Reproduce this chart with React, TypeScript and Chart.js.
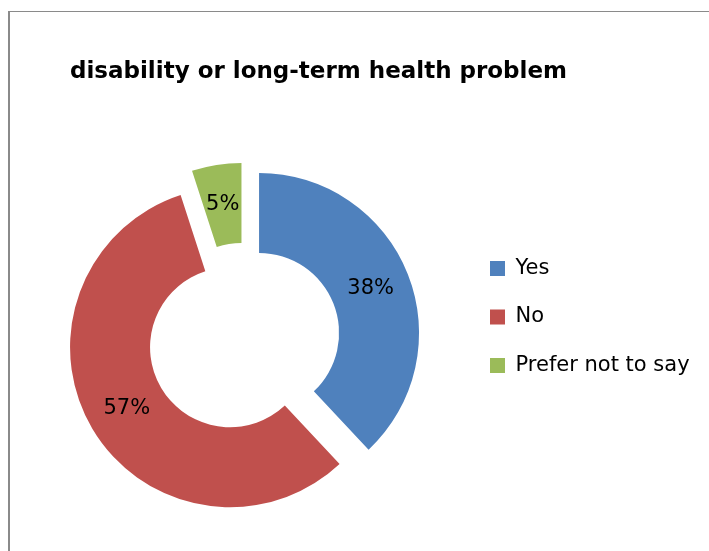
import React, { useEffect, useRef } from 'react';
import { Chart, registerables } from 'chart.js';

Chart.register(...registerables);

const titleText = 'disability or long-term health problem';
const categories = ['Yes', 'No', 'Prefer not to say'];
const values = [38, 57, 5];
const colors = ['#4F81BD', '#C0504D', '#9BBB59'];

const EXPLODE = 16.2;
const FONT = 'DejaVu Sans';

const explodePlugin = {
  id: 'explodeSlices',
  afterDatasetUpdate(chart: any, args: any) {
    for (const arc of args.meta.data) {
      const mid = (arc.startAngle + arc.endAngle) / 2;
      arc.x += Math.cos(mid) * EXPLODE;
      arc.y += Math.sin(mid) * EXPLODE;
    }
  },
};

// let the legend labels run past the legend's nominal box (it is clipped to it)
const legendRoomPlugin = {
  id: 'legendRoom',
  afterLayout(chart: any) {
    if (chart.legend) {
      chart.legend.right = chart.width;
    }
  },
};

const pctLabelPlugin = {
  id: 'pctLabels',
  afterDatasetsDraw(chart: any) {
    const meta = chart.getDatasetMeta(0);
    const data: number[] = chart.data.datasets[0].data;
    const total = data.reduce((a, b) => a + b, 0);
    const ctx = chart.ctx;
    ctx.save();
    ctx.font = `21px "${FONT}"`;
    ctx.fillStyle = '#000';
    ctx.textAlign = 'center';
    ctx.textBaseline = 'middle';
    meta.data.forEach((arc: any, i: number) => {
      const mid = (arc.startAngle + arc.endAngle) / 2;
      const r = (arc.innerRadius + arc.outerRadius) / 2;
      const txt = Math.round((data[i] / total) * 100) + '%';
      ctx.fillText(txt, arc.x + Math.cos(mid) * r, arc.y + Math.sin(mid) * r);
    });
    ctx.restore();
  },
};

export default function App() {
  const ref = useRef<HTMLCanvasElement | null>(null);

  useEffect(() => {
    if (!ref.current) return;
    const chart = new Chart(ref.current, {
      type: 'doughnut',
      data: {
        labels: categories,
        datasets: [
          {
            data: values,
            backgroundColor: colors,
            borderWidth: 0,
            hoverBorderWidth: 0,
            hoverOffset: 0,
            offset: 0,
            clip: false,
          } as any,
        ],
      },
      options: {
        responsive: false,
        animation: false,
        devicePixelRatio: 1,
        events: [],
        radius: 160,
        cutout: '50%',
        layout: { padding: { left: 25.5, right: 97.5, top: 103, bottom: 20 } },
        plugins: {
          title: {
            display: true,
            text: titleText,
            align: 'center',
            color: '#000',
            font: { family: FONT, size: 23, weight: 'bold', lineHeight: 1.2 },
            padding: { top: -44.3, bottom: 60.7 },
          },
          legend: {
            position: 'right',
            align: 'center',
            maxWidth: 149,
            labels: {
              boxWidth: 15,
              boxHeight: 15,
              padding: 27.5,
              color: '#000',
              font: { family: FONT, size: 21 },
            },
          },
          tooltip: { enabled: false },
        },
      } as any,
      plugins: [explodePlugin, legendRoomPlugin, pctLabelPlugin],
    });
    return () => chart.destroy();
  }, []);

  return (
    <div
      style={{
        position: 'fixed',
        left: 0,
        top: 0,
        width: 709,
        height: 551,
        overflow: 'hidden',
        background: '#fff',
      }}
    >
      <div
        style={{
          position: 'absolute',
          left: 8,
          top: 11,
          width: 800,
          height: 700,
          borderLeft: '2px solid #8a8a8a',
          borderTop: '1px solid #8a8a8a',
        }}
      />
      <canvas
        ref={ref}
        width={709}
        height={551}
        style={{ position: 'absolute', left: 0, top: 0, width: 709, height: 551 }}
      />
    </div>
  );
}
